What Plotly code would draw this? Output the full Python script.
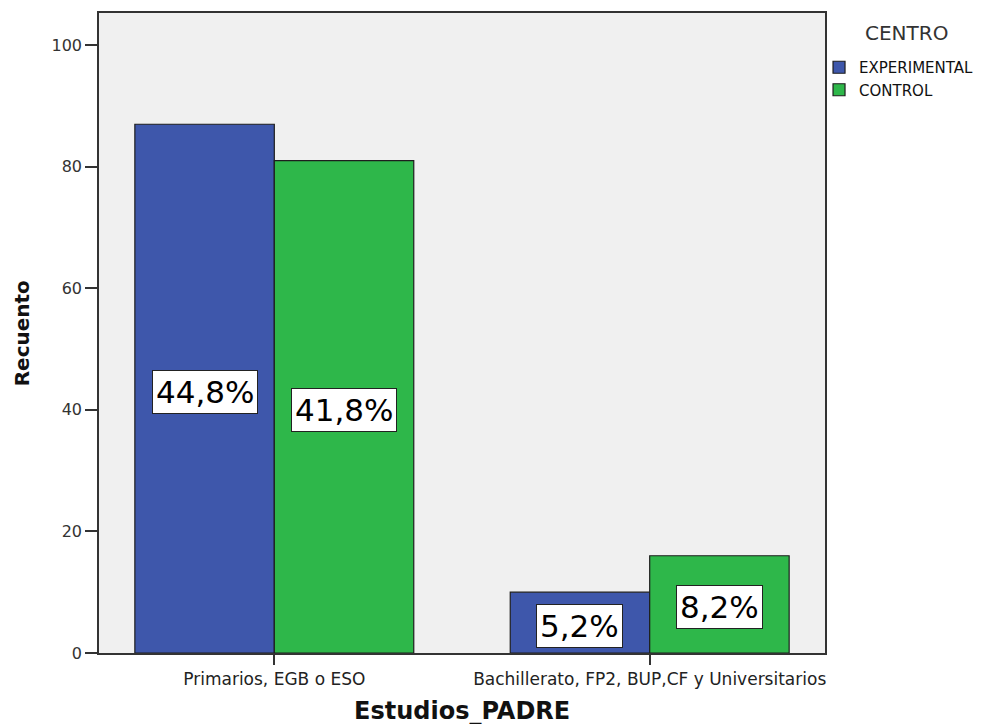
import plotly.graph_objects as go

# Counts of fathers' education level by group
categories = ["Primarios, EGB o ESO", "Bachillerato, FP2, BUP,CF y Universitarios"]
groups = ["EXPERIMENTAL", "CONTROL"]
experimental = [87, 10]
control = [81, 16]
colors = ["#3E57AB", "#2EB74A"]

series = [experimental, control]
total = sum(experimental) + sum(control)

FONT = "DejaVu Sans, Verdana, sans-serif"
ML, MR, MT, MB = 99, 163, 13, 71
PLOT_W = 991 - ML - MR
PLOT_H = 724 - MT - MB


def px_x(px):
    return (px - ML) / PLOT_W


def px_y(px):
    return (724 - MB - px) / PLOT_H


fig = go.Figure()
for name, vals, col in zip(groups, series, colors):
    fig.add_trace(go.Bar(
        x=categories, y=vals, name=name,
        marker=dict(color=col, line=dict(color="#1e1e1e", width=1.2)),
    ))

# Percentage-of-total labels centred inside each bar
group_width = 0.743
bar_w = group_width / len(groups)
for gi, vals in enumerate(series):
    for ci, v in enumerate(vals):
        pct = f"{100 * v / total:.1f}%".replace(".", ",")
        xpos = ci - group_width / 2 + bar_w * (gi + 0.5)
        fig.add_annotation(
            x=xpos, y=v / 2, xref="x", yref="y", text=pct, showarrow=False, yshift=-3,
            font=dict(family=FONT, size=31, color="black"),
            bgcolor="white", bordercolor="#222", borderwidth=1, borderpad=3,
        )

# Legend heading
fig.add_annotation(
    x=px_x(910), y=px_y(33), xref="paper", yref="paper",
    text="CENTRO", showarrow=False, xanchor="center", yanchor="middle",
    font=dict(family=FONT, size=20, color="#333"),
)

# Axis titles
fig.add_annotation(
    x=0.5, y=px_y(711), xref="paper", yref="paper",
    text="<b>Estudios_PADRE</b>", showarrow=False, xanchor="center", yanchor="middle",
    font=dict(family=FONT, size=24, color="#111"),
)
fig.add_annotation(
    x=px_x(22), y=px_y(333), xref="paper", yref="paper", textangle=-90,
    text="<b>Recuento</b>", showarrow=False, xanchor="center", yanchor="middle",
    font=dict(family=FONT, size=20, color="#111"),
)

fig.update_layout(
    width=991, height=724,
    margin=dict(l=ML, r=MR, t=MT, b=MB),
    paper_bgcolor="white", plot_bgcolor="#F0F0F0",
    barmode="group", bargap=1 - group_width, bargroupgap=0,
    font=dict(family=FONT, color="#222"),
    legend=dict(
        font=dict(family=FONT, size=15, color="#111"),
        x=px_x(822), xanchor="left", y=px_y(51), yanchor="top",
        bgcolor="rgba(0,0,0,0)", tracegroupgap=0, itemwidth=30,
    ),
    showlegend=True,
)
fig.update_xaxes(
    range=[-0.467, 1.467], showline=True, linecolor="#333", linewidth=1.5, mirror=True,
    ticks="outside", ticklen=10, tickcolor="#333", tickwidth=1.5,
    tickfont=dict(family=FONT, size=17, color="#222"),
    showgrid=False, automargin=False,
)
fig.update_yaxes(
    range=[0, 105.3], showline=True, linecolor="#333", linewidth=1.5, mirror=True,
    tickvals=[0, 20, 40, 60, 80, 100], ticks="outside", ticklen=12, tickcolor="#333", tickwidth=1.5,
    tickfont=dict(family=FONT, size=16, color="#333"),
    showgrid=False, zeroline=False, automargin=False,
)

fig.write_html("out.html")
